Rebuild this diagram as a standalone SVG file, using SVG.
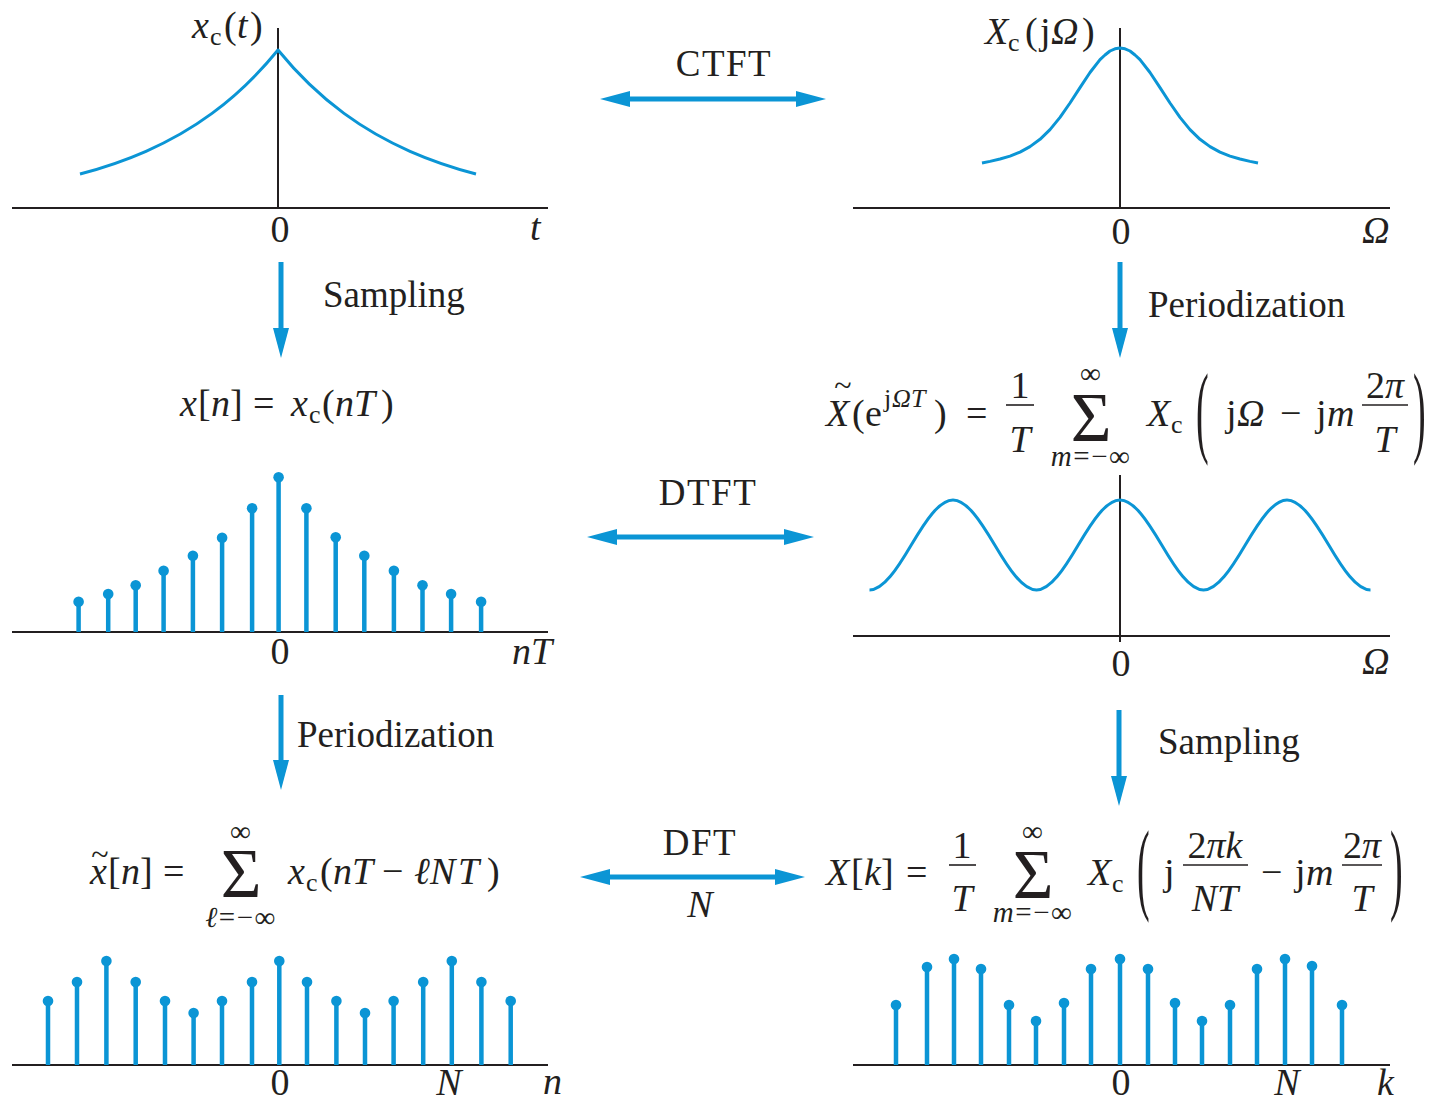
<svg xmlns="http://www.w3.org/2000/svg" width="1435" height="1102" viewBox="0 0 1435 1102">
<style>
text{font-family:"Liberation Serif","Times New Roman",serif;fill:#231f20}
.lbl{font-size:37px}
.ls{letter-spacing:1.5px}
.m{font-size:38px}
.i{font-style:italic}
.s{font-size:26px}
.lim{font-size:29px;letter-spacing:1.5px}
.sig{font-size:70px}
.tl{font-size:32px}
.c{text-anchor:middle}
.ax{stroke:#231f20;stroke-width:2;fill:none}
.bar{stroke:#231f20;stroke-width:1.6}
.stem{stroke:#0b95d5;stroke-width:4.5;fill:none}
.dot{fill:#0b95d5}
.curve{fill:none;stroke:#0b95d5;stroke-width:3;stroke-linejoin:round}
.arr{stroke:#0b95d5;stroke-width:5;fill:none;marker-start:url(#ah);marker-end:url(#ah)}
.arr1{stroke:#0b95d5;stroke-width:5;fill:none;marker-end:url(#ah)}
</style>
<defs>
<marker id="ah" viewBox="0 -8 30 16" refX="15" refY="0" markerWidth="30" markerHeight="16" markerUnits="userSpaceOnUse" orient="auto-start-reverse">
<path d="M0,-8 L30,0 L0,8 z" fill="#0b95d5"/>
</marker>
</defs>

<g id="ctft-signal">
<path class="ax" d="M12,208H548M278,28V208"/>
<path class="curve" d="M80,174 C102,168.2 124,161.0 146,151.3 C168,141.6 190,129.6 212,113.4 C234,97.2 256,77.0 278,50 C300,77.0 322,97.2 344,113.4 C366,129.6 388,141.6 410,151.3 C432,161.0 454,168.2 476,174"/>
<text class="m i" x="192" y="38">x</text><text class="s" x="210" y="45">c</text><text class="m" x="224" y="38">(</text><text class="m i" x="237" y="38">t</text><text class="m" x="250" y="38">)</text>
<text class="m c" x="280" y="242">0</text>
<text class="m i" x="530" y="240">t</text>
</g>

<g id="ctft-spectrum">
<path class="ax" d="M853,208H1390M1120,28V208"/>
<polyline class="curve" points="982,163 990,161.4 1000,159 1010,156.1 1020,152.1 1030,146.6 1040,139.3 1050,129.6 1060,117.4 1070,103 1080,87.6 1090,72.5 1100,59.6 1105,55 1110,51 1115,48.8 1120,48 1125,48.8 1130,51 1135,55 1140,59.6 1150,72.5 1160,87.6 1170,103 1180,117.4 1190,129.6 1200,139.3 1210,146.6 1220,152.1 1230,156.1 1240,159 1250,161.4 1258,163"/>
<text class="m i" x="985" y="44">X</text><text class="s" x="1008" y="51">c</text><text class="m" x="1025" y="44">(</text><text class="m" x="1040" y="44">j</text><text class="m i" x="1051" y="44">Ω</text><text class="m" x="1082" y="44">)</text>
<text class="m c" x="1121" y="244">0</text>
<text class="m i" x="1362" y="243">Ω</text>
</g>

<g id="sampled-signal">
<text class="m i" x="180" y="416">x</text><text class="m" x="198" y="416">[</text><text class="m i" x="211" y="416">n</text><text class="m" x="230" y="416">]</text>
<text class="m" x="253" y="416">=</text>
<text class="m i" x="291" y="416">x</text><text class="s" x="309" y="423">c</text><text class="m" x="322" y="416">(</text><text class="m i" x="335" y="416">n</text><text class="m i" x="354" y="416">T</text><text class="m" x="381" y="416">)</text>
<path class="ax" d="M12,632H548"/>
<path class="stem" d="M78.6,632V601.7M108.2,632V594M135.7,632V585.3M163.6,632V570.7M192.9,632V555.7M222.1,632V537.7M252.1,632V508.3M278.6,632V477.3M306.4,632V508.3M335.7,632V537.3M364.3,632V555.7M393.9,632V570.7M422.5,632V585.3M451.1,632V594M481.1,632V601.7"/>
<g class="dot">
<circle cx="78.6" cy="601.7" r="5.3"/><circle cx="108.2" cy="594" r="5.3"/><circle cx="135.7" cy="585.3" r="5.3"/><circle cx="163.6" cy="570.7" r="5.3"/><circle cx="192.9" cy="555.7" r="5.3"/><circle cx="222.1" cy="537.7" r="5.3"/><circle cx="252.1" cy="508.3" r="5.3"/><circle cx="278.6" cy="477.3" r="5.3"/><circle cx="306.4" cy="508.3" r="5.3"/><circle cx="335.7" cy="537.3" r="5.3"/><circle cx="364.3" cy="555.7" r="5.3"/><circle cx="393.9" cy="570.7" r="5.3"/><circle cx="422.5" cy="585.3" r="5.3"/><circle cx="451.1" cy="594" r="5.3"/><circle cx="481.1" cy="601.7" r="5.3"/>
</g>
<text class="m c" x="280" y="664">0</text>
<text class="m i" x="512" y="664">nT</text>
</g>

<g id="dtft-spectrum">
<text class="tl c" x="843" y="396">~</text>
<text class="m i" x="826" y="426">X</text><text class="m" x="852" y="426">(</text><text class="m" x="865" y="426">e</text>
<text class="s" x="884" y="407">j</text><text class="s i" x="892" y="407">Ω</text><text class="s i" x="911" y="407">T</text>
<text class="m" x="934" y="426">)</text>
<text class="m" x="966" y="426">=</text>
<text class="m c" x="1020" y="398">1</text><path class="bar" d="M1006,405H1034"/><text class="m i c" x="1020" y="452">T</text>
<text class="lim c" x="1091" y="383">∞</text>
<text class="sig c" x="1091" y="441">Σ</text>
<text class="lim c" x="1091" y="466"><tspan class="i">m</tspan>=−∞</text>
<text class="m i" x="1147" y="426">X</text><text class="s" x="1171" y="433">c</text>
<text class="m" transform="translate(1196,444) scale(1,2.7)">(</text>
<text class="m" x="1226" y="426">j</text><text class="m i" x="1237" y="426">Ω</text>
<text class="m" x="1280" y="426">−</text>
<text class="m" x="1316" y="426">j</text><text class="m i" x="1327" y="426">m</text>
<text class="m c" x="1385" y="398">2<tspan class="i">π</tspan></text><path class="bar" d="M1362,405H1408"/><text class="m i c" x="1385" y="452">T</text>
<text class="m" transform="translate(1413,444) scale(1,2.7)">)</text>
<path class="ax" d="M853,636H1390M1120,475V642"/>
<path class="curve" d="M869.5,590 C883.42,590 897.33,568.56 911.25,545 C925.17,521.44 939.08,500 953,500 C966.92,500 980.83,521.44 994.75,545 C1008.67,568.56 1022.58,590 1036.5,590 C1050.42,590 1064.33,568.56 1078.25,545 C1092.17,521.44 1106.08,500 1120,500 C1133.92,500 1147.83,521.44 1161.75,545 C1175.67,568.56 1189.58,590 1203.5,590 C1217.42,590 1231.33,568.56 1245.25,545 C1259.17,521.44 1273.08,500 1287,500 C1300.92,500 1314.83,521.44 1328.75,545 C1342.67,568.56 1356.58,590 1370.5,590"/>
<text class="m c" x="1121" y="676">0</text>
<text class="m i" x="1362" y="674">Ω</text>
</g>

<g id="periodic-signal">
<text class="tl c" x="100" y="865">~</text>
<text class="m i" x="90" y="884">x</text><text class="m" x="108" y="884">[</text><text class="m i" x="121" y="884">n</text><text class="m" x="140" y="884">]</text>
<text class="m" x="163" y="884">=</text>
<text class="lim c" x="241" y="841">∞</text>
<text class="sig c" x="241" y="897">Σ</text>
<text class="lim c" x="241" y="927"><tspan class="i">ℓ</tspan>=−∞</text>
<text class="m i" x="288" y="884">x</text><text class="s" x="306" y="891">c</text><text class="m" x="320" y="884">(</text><text class="m i" x="333" y="884">n</text><text class="m i" x="352" y="884">T</text>
<text class="m" x="382" y="884">−</text>
<text class="m i" x="414" y="884">ℓ</text><text class="m i" x="430" y="884">N</text><text class="m i" x="458" y="884">T</text><text class="m" x="487" y="884">)</text>
<path class="ax" d="M12,1065H548"/>
<path class="stem" d="M48,1065V1001M77,1065V982M106.4,1065V961M135.7,1065V982M165,1065V1001M193.6,1065V1013M222,1065V1001M252,1065V982M279.3,1065V961M307,1065V982M336.4,1065V1001M365,1065V1013M393.6,1065V1001M423.2,1065V982M451.8,1065V961M481.4,1065V982M510.7,1065V1001"/>
<g class="dot">
<circle cx="48" cy="1001" r="5.3"/><circle cx="77" cy="982" r="5.3"/><circle cx="106.4" cy="961" r="5.3"/><circle cx="135.7" cy="982" r="5.3"/><circle cx="165" cy="1001" r="5.3"/><circle cx="193.6" cy="1013" r="5.3"/><circle cx="222" cy="1001" r="5.3"/><circle cx="252" cy="982" r="5.3"/><circle cx="279.3" cy="961" r="5.3"/><circle cx="307" cy="982" r="5.3"/><circle cx="336.4" cy="1001" r="5.3"/><circle cx="365" cy="1013" r="5.3"/><circle cx="393.6" cy="1001" r="5.3"/><circle cx="423.2" cy="982" r="5.3"/><circle cx="451.8" cy="961" r="5.3"/><circle cx="481.4" cy="982" r="5.3"/><circle cx="510.7" cy="1001" r="5.3"/>
</g>
<text class="m c" x="280" y="1095">0</text>
<text class="m i c" x="449" y="1095">N</text>
<text class="m i" x="543" y="1094">n</text>
</g>

<g id="dft-spectrum">
<text class="m i" x="826" y="885">X</text><text class="m" x="851" y="885">[</text><text class="m i" x="864" y="885">k</text><text class="m" x="881" y="885">]</text>
<text class="m" x="906" y="885">=</text>
<text class="m c" x="962" y="858">1</text><path class="bar" d="M949,865H976"/><text class="m i c" x="962" y="911">T</text>
<text class="lim c" x="1033" y="841">∞</text>
<text class="sig c" x="1033" y="898">Σ</text>
<text class="lim c" x="1033" y="922"><tspan class="i">m</tspan>=−∞</text>
<text class="m i" x="1088" y="885">X</text><text class="s" x="1112" y="892">c</text>
<text class="m" transform="translate(1137,901) scale(1,2.7)">(</text>
<text class="m" x="1164" y="885">j</text>
<text class="m c" x="1215" y="858">2<tspan class="i">πk</tspan></text><path class="bar" d="M1183,865H1248"/><text class="m i c" x="1215" y="911">NT</text>
<text class="m" x="1261" y="885">−</text>
<text class="m" x="1295" y="885">j</text><text class="m i" x="1306" y="885">m</text>
<text class="m c" x="1362" y="858">2<tspan class="i">π</tspan></text><path class="bar" d="M1342,865H1382"/><text class="m i c" x="1362" y="911">T</text>
<text class="m" transform="translate(1390,901) scale(1,2.7)">)</text>
<path class="ax" d="M853,1065H1390"/>
<path class="stem" d="M896,1065V1005M927,1065V967M954,1065V959M981,1065V969M1009,1065V1005M1036,1065V1021M1064,1065V1003M1091,1065V969M1120,1065V959M1148,1065V969M1175,1065V1003M1202,1065V1021M1230,1065V1005M1257,1065V969M1285,1065V959M1312,1065V966M1342,1065V1005"/>
<g class="dot">
<circle cx="896" cy="1005" r="5.3"/><circle cx="927" cy="967" r="5.3"/><circle cx="954" cy="959" r="5.3"/><circle cx="981" cy="969" r="5.3"/><circle cx="1009" cy="1005" r="5.3"/><circle cx="1036" cy="1021" r="5.3"/><circle cx="1064" cy="1003" r="5.3"/><circle cx="1091" cy="969" r="5.3"/><circle cx="1120" cy="959" r="5.3"/><circle cx="1148" cy="969" r="5.3"/><circle cx="1175" cy="1003" r="5.3"/><circle cx="1202" cy="1021" r="5.3"/><circle cx="1230" cy="1005" r="5.3"/><circle cx="1257" cy="969" r="5.3"/><circle cx="1285" cy="959" r="5.3"/><circle cx="1312" cy="966" r="5.3"/><circle cx="1342" cy="1005" r="5.3"/>
</g>
<text class="m c" x="1121" y="1095">0</text>
<text class="m i c" x="1287" y="1095">N</text>
<text class="m i" x="1377" y="1095">k</text>
</g>

<g id="connectors">
<path class="arr" d="M615,99H811"/>
<text class="lbl ls c" x="724" y="76">CTFT</text>
<path class="arr" d="M602,537H799"/>
<text class="lbl ls c" x="708" y="505">DTFT</text>
<path class="arr" d="M595,877H790"/>
<text class="lbl ls c" x="700" y="855">DFT</text>
<text class="m i c" x="700" y="917">N</text>
<path class="arr1" d="M281,262V343"/>
<text class="lbl" x="323" y="307">Sampling</text>
<path class="arr1" d="M1120,262V343"/>
<text class="lbl" x="1148" y="317">Periodization</text>
<path class="arr1" d="M281,695V775"/>
<text class="lbl" x="297" y="747">Periodization</text>
<path class="arr1" d="M1119,710V791"/>
<text class="lbl" x="1158" y="754">Sampling</text>
</g>
</svg>
